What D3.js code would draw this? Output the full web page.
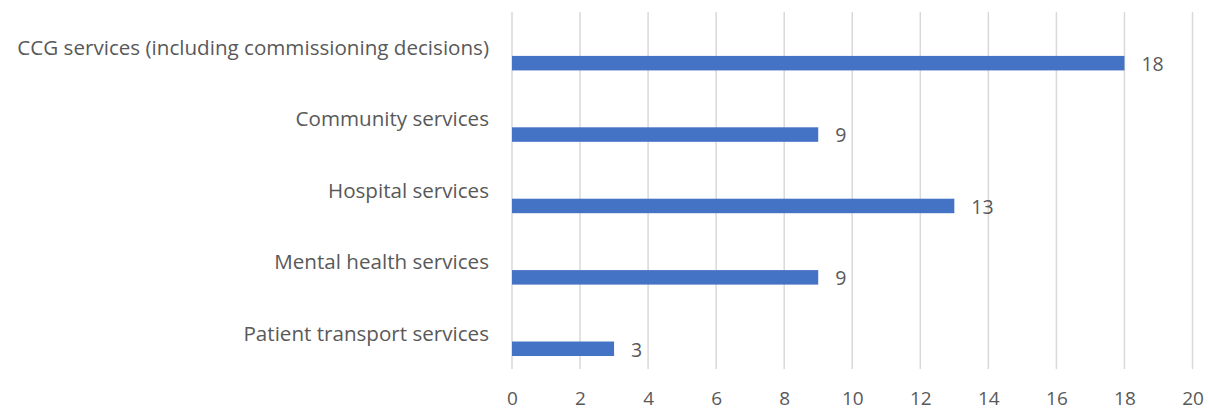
<!DOCTYPE html>
<html>
<head>
<meta charset="utf-8">
<script src="https://cdn.jsdelivr.net/npm/d3@7"></script>
<style>
  html, body { margin: 0; padding: 0; background: #fff; }
  svg { display: block; }
  text { font-family: "Open Sans", Lato, sans-serif; fill: #595959; }
</style>
</head>
<body>
<svg id="chart" width="1209" height="409"></svg>
<script>
// Service categories and complaint counts
const categories = [
  "CCG services (including commissioning decisions)",
  "Community services",
  "Hospital services",
  "Mental health services",
  "Patient transport services"
];
const counts = [18, 9, 13, 9, 3];
const xTicks = [0, 2, 4, 6, 8, 10, 12, 14, 16, 18, 20];

const FONT = "'Open Sans', Lato, sans-serif";

const svg = d3.select("#chart");
const plot = { left: 512, right: 1192.5, top: 12, bottom: 369 };

const x = d3.scaleLinear().domain([0, 20]).range([plot.left, plot.right]);
const y = d3.scaleBand().domain(categories).range([plot.top, plot.bottom]).padding(0);
const bw = y.bandwidth();

// vertical gridlines
svg.append("g").selectAll("line").data(xTicks).join("line")
  .attr("x1", d => x(d)).attr("x2", d => x(d))
  .attr("y1", plot.top).attr("y2", plot.bottom)
  .attr("stroke", "#d9d9d9").attr("stroke-width", 1.5);

// x tick labels
const xAxis = d3.axisBottom(x).tickValues(xTicks).tickSize(0).tickPadding(0);
const gx = svg.append("g").attr("transform", `translate(0,${plot.bottom})`).call(xAxis);
gx.select(".domain").remove();
gx.selectAll("text")
  .attr("dy", null).attr("y", 35.5)
  .style("font-family", FONT)
  .style("font-size", "19px").attr("fill", "#595959");

// category labels, right-aligned, centred on each band
svg.append("g").selectAll("text").data(categories).join("text")
  .attr("x", 489)
  .attr("y", d => y(d) + bw / 2)
  .attr("dy", "0.35em")
  .attr("text-anchor", "end")
  .style("font-size", "20.6px")
  .text(d => d);

// bars sit in the lower part of each band
const barTop = 0.615, barH = 0.203;
svg.append("g").selectAll("rect").data(categories).join("rect")
  .attr("x", x(0))
  .attr("y", d => y(d) + bw * barTop)
  .attr("width", (d, i) => x(counts[i]) - x(0))
  .attr("height", bw * barH)
  .attr("fill", "#4472c4");

// value labels
svg.append("g").selectAll("text").data(categories).join("text")
  .attr("x", (d, i) => x(counts[i]) + 17)
  .attr("y", d => y(d) + bw * (barTop + barH / 2) + 1)
  .attr("dy", "0.35em")
  .style("font-size", "19.5px")
  .text((d, i) => counts[i]);
</script>
</body>
</html>
